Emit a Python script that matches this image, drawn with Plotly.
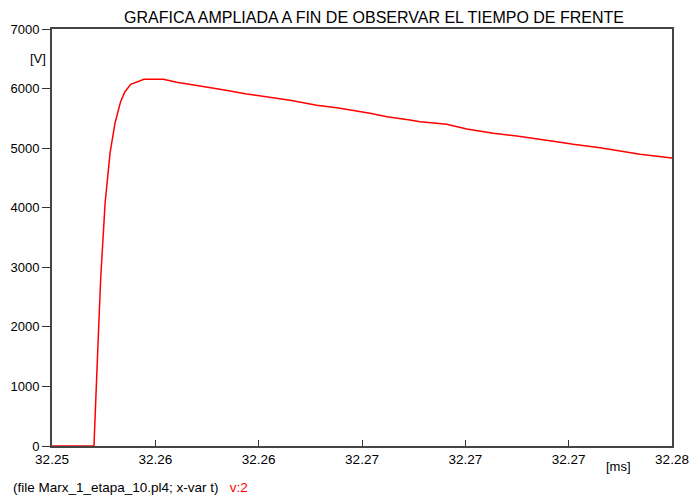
import plotly.graph_objects as go

# time [ms] and voltage [V]
t_ms = [32.25, 32.25203, 32.25224, 32.25236, 32.25257, 32.25281, 32.25305,
        32.25332, 32.25353, 32.25381, 32.25445, 32.25539, 32.25603, 32.25749,
        32.25813, 32.25942, 32.26071, 32.26152, 32.26281, 32.26378, 32.26539,
        32.26620, 32.26732, 32.26781, 32.26910, 32.27007, 32.27135, 32.27249,
        32.27442, 32.27522, 32.27652, 32.27781, 32.27845, 32.28]
v_2 = [0, 0, 1835, 2842, 4079, 4919, 5422,
       5780, 5948, 6072, 6156, 6156, 6105, 6032,
       5988, 5909, 5847, 5803, 5719, 5679, 5585,
       5528, 5473, 5444, 5400, 5322, 5249, 5204,
       5108, 5065, 5008, 4940, 4897, 4835]

x_ticks = [32.25, 32.255, 32.26, 32.265, 32.27, 32.275, 32.28]
x_ticktext = ["32.25", "32.26", "32.26", "32.27", "32.27", "32.27", "32.28"]
y_ticks = [0, 1000, 2000, 3000, 4000, 5000, 6000, 7000]

FONT = "Liberation Sans, Arial, sans-serif"

fig = go.Figure()
fig.add_trace(go.Scatter(x=t_ms, y=v_2, mode="lines",
                         line=dict(color="#ff0000", width=1.5),
                         showlegend=False, hoverinfo="x+y"))

fig.update_layout(
    width=693, height=498,
    margin=dict(l=52, r=21, t=29, b=52, autoexpand=False),
    paper_bgcolor="white", plot_bgcolor="white",
    font=dict(family=FONT, size=13, color="black"),
    xaxis=dict(range=[32.25, 32.28], tickvals=x_ticks, ticktext=x_ticktext,
               ticks="inside", ticklen=6, tickcolor="#333", automargin=False,
               showgrid=False, zeroline=False,
               showline=True, linecolor="#444", linewidth=2, mirror=True,
               tickfont=dict(size=13.5)),
    yaxis=dict(range=[0, 7000], tickvals=y_ticks,
               ticks="outside", ticklen=8, tickcolor="#333", automargin=False,
               showgrid=False, zeroline=False,
               showline=True, linecolor="#444", linewidth=2, mirror=True,
               tickfont=dict(size=13)),
    annotations=[
        dict(text="GRAFICA AMPLIADA A FIN DE OBSERVAR EL TIEMPO DE FRENTE",
             xref="paper", yref="paper", x=0.52, y=1.0, yshift=12,
             xanchor="center", yanchor="middle", showarrow=False,
             font=dict(size=16)),
        dict(text="[V]", xref="paper", yref="paper", x=0, y=0.93,
             xshift=-14, xanchor="center", yanchor="middle", showarrow=False,
             font=dict(size=13)),
        dict(text="[ms]", xref="paper", yref="paper", x=0.9145, y=0,
             yshift=-20, xanchor="center", yanchor="middle", showarrow=False,
             font=dict(size=13)),
        dict(text="(file Marx_1_etapa_10.pl4; x-var t)&nbsp;&nbsp;&nbsp;<span style='color:#ff0000'>v:2</span>",
             xref="paper", yref="paper", x=0, y=0, xshift=-41, yshift=-41,
             xanchor="left", yanchor="middle", showarrow=False,
             font=dict(size=13.5)),
    ],
)

# drop the default 8px page margin so the figure fills the window
fig.write_html("out.html", config={"displayModeBar": False},
               post_script="document.body.style.margin = '0';")
